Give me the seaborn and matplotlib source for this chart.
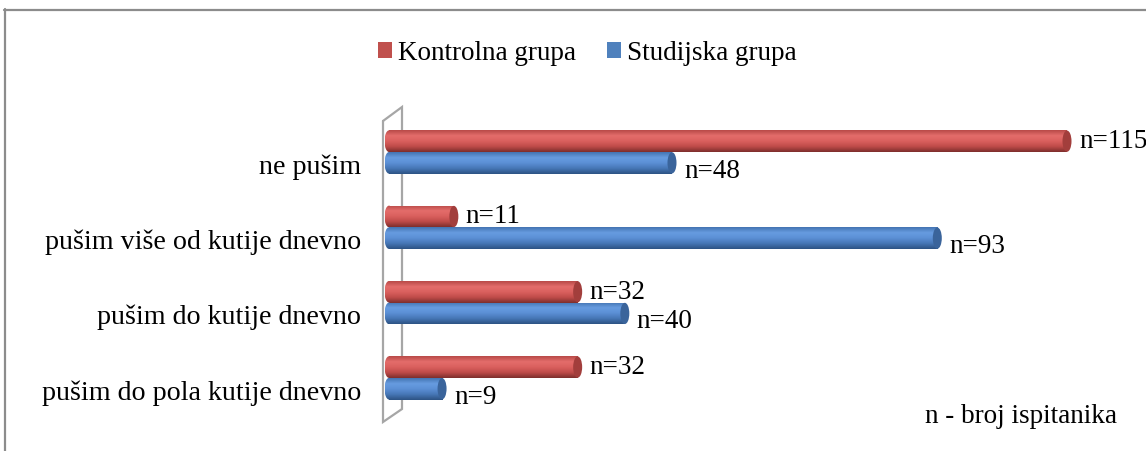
import numpy as np
import pandas as pd
import matplotlib
matplotlib.use("Agg")
import matplotlib.pyplot as plt
from matplotlib.patches import Ellipse, Patch
from matplotlib.lines import Line2D
from matplotlib.colors import LinearSegmentedColormap
import seaborn as sns

# --- data ---------------------------------------------------------------
categories = [
    "ne pušim",
    "pušim više od kutije dnevno",
    "pušim do kutije dnevno",
    "pušim do pola kutije dnevno",
]
kontrolna = [115, 11, 32, 32]
studijska = [48, 93, 40, 9]
groups = ["Kontrolna grupa", "Studijska grupa"]

df = pd.DataFrame({
    "kategorija": categories * 2,
    "grupa": [groups[0]] * len(categories) + [groups[1]] * len(categories),
    "n": kontrolna + studijska,
})

# --- style --------------------------------------------------------------
sns.set_theme(style="white")
plt.rcParams["font.family"] = ["Liberation Serif", "DejaVu Serif"]
plt.rcParams["text.color"] = "black"
plt.rcParams["ytick.color"] = "black"
plt.rcParams["ytick.labelcolor"] = "black"
FS = 19.5
FS_CAT = 20.2

base = {groups[0]: "#C0504D", groups[1]: "#4F81BD"}
# vertical shading of the cylinders (top -> bottom)
shade = {
    groups[0]: ["#b84a48", "#e46d6b", "#da605e", "#bf4b49", "#7e2f2d"],
    groups[1]: ["#4474b2", "#679ce0", "#5b8fd5", "#4676b5", "#2d5384"],
}
cap = {groups[0]: "#a23e3c", groups[1]: "#3a649b"}

W, H = 1146, 452
fig = plt.figure(figsize=(W / 100, H / 100), dpi=100)

x0_px = 389.0          # pixel of value 0
scale = 678.0 / 115.0  # pixels per unit
xmin, xmax = -2, 125
left_px = x0_px + xmin * scale
right_px = x0_px + xmax * scale
step = 75.3
c0 = 153.0
top_px = c0 - step / 2
bot_px = c0 + step * (len(categories) - 0.5)
ax = fig.add_axes([left_px / W, 1 - bot_px / H,
                   (right_px - left_px) / W, (bot_px - top_px) / H])

sns.barplot(data=df, y="kategorija", x="n", hue="grupa", orient="y",
            hue_order=groups, palette=base, width=0.575, legend=False,
            ax=ax, zorder=3)

ax.set_xlim(xmin, xmax)
ax.set_ylim(len(categories) - 0.5, -0.5)

# left 3D wall outline
px_y = lambda p: (p - c0) / step
wall_x = [-6 / scale, 13 / scale, 13 / scale, -6 / scale, -6 / scale]
wall_y = [px_y(122), px_y(108), px_y(410), px_y(423), px_y(122)]
ax.plot(wall_x, wall_y, color="#a6a6a6", lw=1.6, zorder=1, clip_on=False,
        solid_joinstyle="miter")

# cylinder shading on each bar
ew = 9.0 / scale
bars = [p for p in ax.patches]
order = [(g, i) for g in groups for i in range(len(categories))]
for patch, (g, i) in zip(bars, order):
    x = patch.get_x()
    w = patch.get_width()
    y = patch.get_y()
    h = patch.get_height()
    cmap = LinearSegmentedColormap.from_list(g, shade[g])
    grad = cmap(np.linspace(0, 1, 64))[:, None, :3]
    grad = np.repeat(grad, 2, axis=1)
    # body
    im = ax.imshow(grad, extent=(x, x + w, y + h, y), aspect="auto",
                   origin="upper", zorder=4, interpolation="bilinear")
    im.set_clip_path(patch)
    # rounded left end
    le = Ellipse((x, y + h / 2), ew, h, transform=ax.transData,
                 facecolor="none", edgecolor="none")
    ax.add_patch(le)
    im2 = ax.imshow(grad, extent=(x - ew / 2, x + ew / 2, y + h, y),
                    aspect="auto", origin="upper", zorder=4,
                    interpolation="bilinear")
    im2.set_clip_path(le)
    # end cap
    ax.add_patch(Ellipse((x + w, y + h / 2), ew, h * 0.98,
                         facecolor=cap[g], edgecolor="none", zorder=5))
    patch.set_visible(False)

ax.set_xlim(xmin, xmax)
ax.set_ylim(len(categories) - 0.5, -0.5)

# value labels
for patch, (g, i) in zip(bars, order):
    v = patch.get_width()
    yc = patch.get_y() + patch.get_height() / 2
    dy = -4.3 if g == groups[0] else -10.0
    ax.annotate(f"n={v:.0f}", xy=(v, yc), xytext=(8.6, dy),
                textcoords="offset points", va="baseline", ha="left",
                fontsize=FS, color="black", zorder=6,
                annotation_clip=False)

# axes decoration
for s in ax.spines.values():
    s.set_visible(False)
ax.set_xticks([])
ax.set_xlabel("")
ax.set_ylabel("")
ax.set_yticks([i + 11 / step for i in range(len(categories))])
ax.set_yticklabels(categories, fontsize=FS_CAT, color="black")
ax.tick_params(axis="y", length=0, pad=11.5)
ax.patch.set_alpha(0)

# legend
handles = [Patch(facecolor=base[g], edgecolor="none") for g in groups]
leg = fig.legend(handles, groups, loc="center",
                 bbox_to_anchor=(587 / W, 1 - 54 / H),
                 ncol=2, frameon=False, fontsize=FS, handlelength=0.52,
                 handleheight=0.52, handletextpad=0.22, columnspacing=1.15,
                 borderpad=0, borderaxespad=0)
for t in leg.get_texts():
    t.set_color("black")

fig.text(1117 / W, 1 - 423 / H, "n - broj ispitanika", ha="right",
         va="baseline", fontsize=FS, color="black")

# chart frame (top and left edges)
fig.add_artist(Line2D([4 / W, 1], [1 - 11 / H, 1 - 11 / H],
                      transform=fig.transFigure, color="#8c8c8c", lw=1.6))
fig.add_artist(Line2D([5 / W, 5 / W], [0, 1 - 10 / H],
                      transform=fig.transFigure, color="#8c8c8c", lw=1.6))

fig.savefig("out.png", dpi=100)
